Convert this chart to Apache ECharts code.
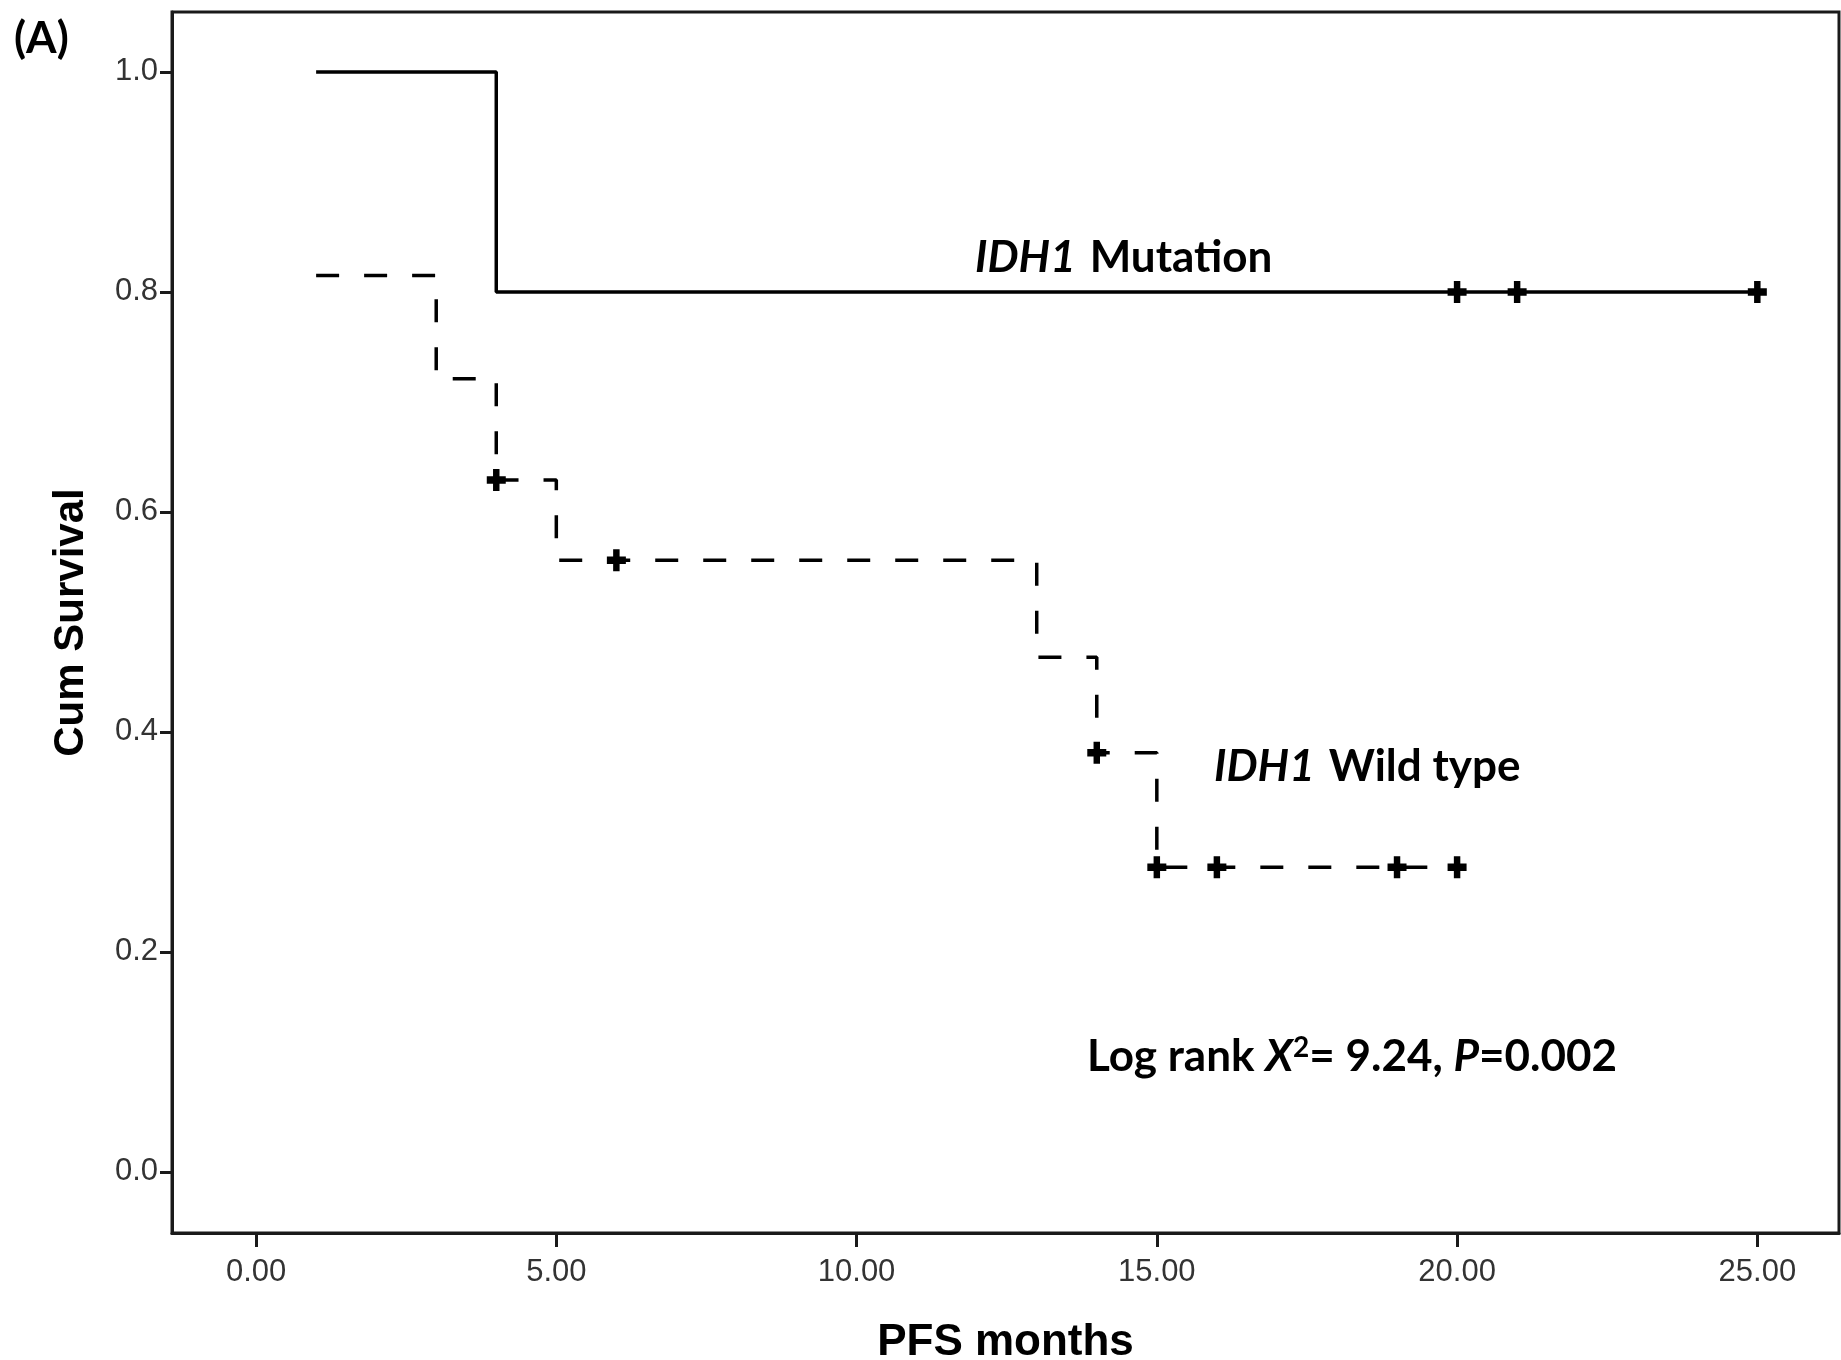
<!DOCTYPE html>
<html>
<head>
<meta charset="utf-8">
<script src="https://cdn.jsdelivr.net/npm/echarts@6/dist/echarts.min.js"></script>
<style>
html,body{margin:0;padding:0;background:#fff;}
#chart{width:1841px;height:1360px;}
</style>
</head>
<body>
<div id="chart"></div>
<script>
// ---- data ----
const xTicks = [0, 5, 10, 15, 20, 25];
const yTicks = [0, 0.2, 0.4, 0.6, 0.8, 1.0];

const mutTimes = [1, 4, 25];
const mutSurv  = [1.0, 0.8, 0.8];
const mutCensorTimes = [20, 21, 25];
const mutCensorSurv  = [0.8, 0.8, 0.8];

const wildTimes = [1, 3, 4, 5, 13, 14, 15, 20];
const wildSurv  = [0.815, 0.721, 0.629, 0.556, 0.468, 0.381, 0.277, 0.277];
const wildCensorTimes = [4, 6, 14, 15, 16, 19, 20];
const wildCensorSurv  = [0.629, 0.556, 0.381, 0.277, 0.277, 0.277, 0.277];

const pair = (xs, ys) => xs.map((x, i) => [x, ys[i]]);

const plusPath = 'path://M3.3,0H6.7V3.3H10V6.7H6.7V10H3.3V6.7H0V3.3H3.3Z';
const annFont = 'Lato, "Open Sans", sans-serif';
const axisFont = 'Liberation Sans, Arial, sans-serif';

const richStyles = {
  i: {fontFamily: annFont, fontSize: 44, fontStyle: 'italic', fontWeight: 'bold', fill: '#000', padding: [0, 14, 0, 0]},
  n: {fontFamily: annFont, fontSize: 44, fontWeight: 'bold', fill: '#000'},
  x: {fontFamily: annFont, fontSize: 44, fontStyle: 'italic', fontWeight: 'bold', fill: '#000'},
  s: {fontFamily: annFont, fontSize: 28, fontWeight: 'bold', fill: '#000', verticalAlign: 'top', padding: [0, 0, 18, 0]}
};

const chart = echarts.init(document.getElementById('chart'));
chart.setOption({
  backgroundColor: '#fff',
  animation: false,
  grid: {
    left: 172, right: 2, top: 12, bottom: 127,
    show: true, borderColor: '#1a1a1a', borderWidth: 3,
    containLabel: false, outerBoundsMode: 'none'
  },
  xAxis: {
    type: 'value', min: -1.40, max: 26.36,
    name: 'PFS months', nameLocation: 'middle', nameGap: 88,
    nameTextStyle: {fontFamily: axisFont, fontWeight: 'bold', fontSize: 44, color: '#000'},
    axisLine: {show: true, onZero: false, lineStyle: {color: '#1a1a1a', width: 3}},
    axisTick: {show: true, length: 14, lineStyle: {color: '#1a1a1a', width: 3}, customValues: xTicks},
    axisLabel: {customValues: xTicks, margin: 24, fontFamily: axisFont, fontSize: 31, color: '#333',
      formatter: v => v.toFixed(2)},
    splitLine: {show: false}
  },
  yAxis: {
    type: 'value', min: -0.0555, max: 1.0545,
    name: 'Cum Survival', nameLocation: 'middle', nameGap: 80, nameRotate: 90,
    nameTextStyle: {fontFamily: axisFont, fontWeight: 'bold', fontSize: 42, color: '#000'},
    axisLine: {show: true, onZero: false, lineStyle: {color: '#1a1a1a', width: 3}},
    axisTick: {show: true, length: 12, lineStyle: {color: '#1a1a1a', width: 3}, customValues: yTicks},
    axisLabel: {customValues: yTicks, margin: 14, fontFamily: axisFont, fontSize: 31, color: '#333',
      formatter: v => v.toFixed(1)},
    splitLine: {show: false}
  },
  series: [
    {
      name: 'IDH1 Mutation', type: 'line', step: 'end',
      data: pair(mutTimes, mutSurv),
      showSymbol: false, symbol: 'none',
      lineStyle: {color: '#000', width: 3.5},
      z: 3
    },
    {
      name: 'IDH1 Wild type', type: 'line', step: 'end',
      data: pair(wildTimes, wildSurv),
      showSymbol: false, symbol: 'none',
      lineStyle: {color: '#000', width: 3.5, type: [23, 25]},
      z: 3
    },
    {
      name: 'Mutation censored', type: 'scatter',
      data: pair(mutCensorTimes, mutCensorSurv),
      symbol: plusPath, symbolSize: [19, 22],
      itemStyle: {color: '#000', opacity: 1}, z: 4
    },
    {
      name: 'Wild type censored', type: 'scatter',
      data: pair(wildCensorTimes, wildCensorSurv),
      symbol: plusPath, symbolSize: [19, 22],
      itemStyle: {color: '#000', opacity: 1}, z: 4
    }
  ],
  graphic: [
    {type: 'text', left: 14, top: 17, style: {text: '(A)', font: 'bold 44px ' + annFont, fill: '#000'}},
    {type: 'text', left: 975, top: 236, style: {
      text: '{i|IDH1}{n|Mutation}', rich: richStyles}},
    {type: 'text', left: 1214, top: 745, style: {
      text: '{i|IDH1}{n|Wild type}', rich: richStyles}},
    {type: 'text', left: 1087, top: 1034, style: {
      text: '{n|Log rank }{x|X}{s|2}{n|= 9.24, }{x|P}{n|=0.002}', rich: richStyles}}
  ]
});
</script>
</body>
</html>
